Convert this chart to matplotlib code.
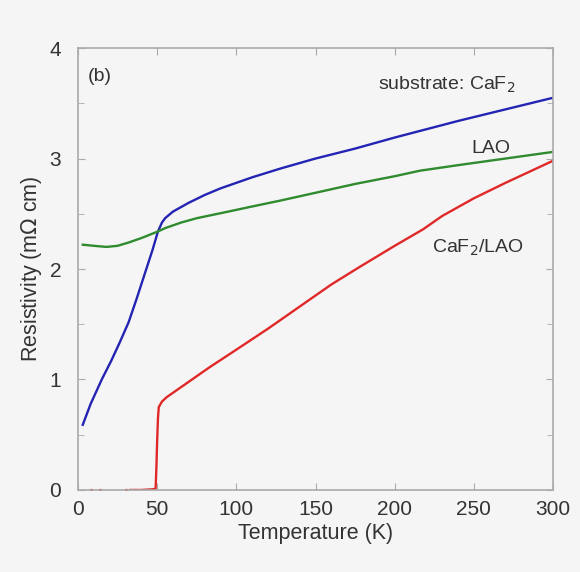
import matplotlib
matplotlib.use('Agg')
import matplotlib.pyplot as plt
from matplotlib.ticker import MultipleLocator

# resistivity vs temperature for films on different substrates
t_caf2 = [3, 8, 15, 21, 26.5, 32, 37, 42, 47, 50.5, 53, 55, 60, 70, 80, 90, 100, 110,
          128, 150, 175, 200, 216, 240, 260, 280, 300]
rho_caf2 = [0.59, 0.78, 1.0, 1.17, 1.34, 1.52, 1.73, 1.95, 2.17, 2.34, 2.42, 2.46, 2.52,
            2.60, 2.67, 2.73, 2.78, 2.83, 2.91, 3.0, 3.09, 3.19, 3.25, 3.34, 3.41, 3.48, 3.55]

t_lao = [3, 10, 18, 25, 32, 40, 47, 50.5, 55, 65, 75, 85, 95, 108, 128, 150, 175, 200,
         216, 240, 260, 280, 300]
rho_lao = [2.22, 2.21, 2.20, 2.21, 2.24, 2.28, 2.32, 2.34, 2.37, 2.42, 2.46, 2.49, 2.52,
           2.56, 2.62, 2.69, 2.77, 2.84, 2.89, 2.94, 2.98, 3.02, 3.06]

t_caf2_lao = [33, 40, 46, 49, 49.5, 50, 50.5, 51, 53, 56, 60, 70, 83, 100, 120, 140, 160,
              178, 200, 218, 230, 250, 270, 300]
rho_caf2_lao = [0, 0, 0.005, 0.01, 0.2, 0.45, 0.65, 0.75, 0.8, 0.84, 0.88, 0.98, 1.11, 1.27,
                1.46, 1.66, 1.86, 2.02, 2.21, 2.36, 2.48, 2.64, 2.78, 2.98]
# sparse points in the superconducting state
t_caf2_lao_low = [8, 14, 30]
rho_caf2_lao_low = [0, 0, 0]

bg = '#f5f5f5'
txt = '#333333'
plt.rcParams['font.family'] = ['Liberation Sans', 'DejaVu Sans']

fig = plt.figure(figsize=(5.8, 5.72), dpi=100, facecolor=bg)
ax = fig.add_axes([0.1345, 0.1434, 0.819, 0.7726])
ax.set_facecolor(bg)

ax.plot(t_caf2, rho_caf2, color='#2424b4', lw=1.7)
ax.plot(t_lao, rho_lao, color='#2e8b2e', lw=1.7)
ax.plot(t_caf2_lao, rho_caf2_lao, color='#e02828', lw=1.7)
ax.plot(t_caf2_lao_low, rho_caf2_lao_low, ls='none', marker='.', ms=3, color='#e02828')

ax.set_xlim(0, 300)
ax.set_ylim(0, 4)
ax.xaxis.set_major_locator(MultipleLocator(50))
ax.yaxis.set_major_locator(MultipleLocator(1))
ax.yaxis.set_minor_locator(MultipleLocator(0.5))

for s in ax.spines.values():
    s.set_color('#aaaaaa')
    s.set_linewidth(1.2)
ax.tick_params(which='both', direction='in', top=True, right=True, color='#aaaaaa',
               labelcolor=txt, labelsize=15)
ax.tick_params(which='major', length=5)
ax.tick_params(which='minor', length=4)
ax.tick_params(axis='x', pad=7)
ax.tick_params(axis='y', pad=12)

ax.set_xlabel('Temperature (K)', fontsize=15.5, color=txt, labelpad=3)
ax.set_ylabel('Resistivity (m$\\Omega$ cm)', fontsize=15.5, color=txt, labelpad=4)

ax.text(6.3, 3.70, '(b)', fontsize=14, color=txt)
ax.text(276, 3.62, 'substrate: CaF$_2$', fontsize=14, color=txt, ha='right')
ax.text(273, 3.05, 'LAO', fontsize=14, color=txt, ha='right')
ax.text(223.6, 2.15, 'CaF$_2$/LAO', fontsize=14, color=txt, ha='left')

fig.savefig('out.png', dpi=100, facecolor=bg)
